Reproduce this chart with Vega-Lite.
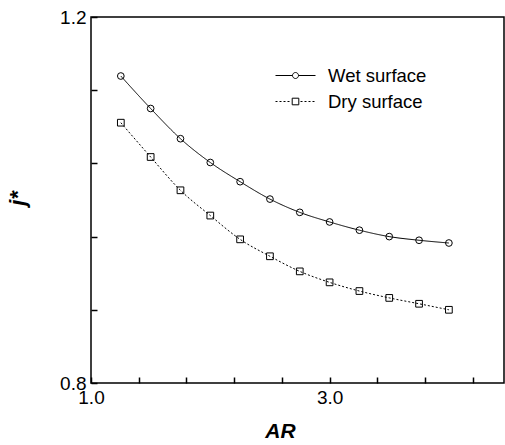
{
  "$schema": "https://vega.github.io/schema/vega-lite/v6.json",
  "width": 413,
  "height": 366,
  "autosize": {"type": "none"},
  "padding": {"left": 91, "top": 17, "right": 1, "bottom": 62},
  "background": "white",
  "config": {
    "view": {"stroke": "black", "strokeWidth": 1.5},
    "font": "Liberation Sans",
    "axis": {
      "labelColor": "black",
      "labelFont": "Liberation Sans",
      "labelFontSize": 19,
      "titleColor": "black"
    }
  },
  "data": {
    "values": [
      {"AR": 1.25, "j": 1.1355, "series": "Wet surface"},
      {"AR": 1.5, "j": 1.100, "series": "Wet surface"},
      {"AR": 1.75, "j": 1.067, "series": "Wet surface"},
      {"AR": 2.0, "j": 1.041, "series": "Wet surface"},
      {"AR": 2.25, "j": 1.020, "series": "Wet surface"},
      {"AR": 2.5, "j": 1.001, "series": "Wet surface"},
      {"AR": 2.75, "j": 0.9865, "series": "Wet surface"},
      {"AR": 3.0, "j": 0.976, "series": "Wet surface"},
      {"AR": 3.25, "j": 0.967, "series": "Wet surface"},
      {"AR": 3.5, "j": 0.960, "series": "Wet surface"},
      {"AR": 3.75, "j": 0.956, "series": "Wet surface"},
      {"AR": 4.0, "j": 0.953, "series": "Wet surface"},
      {"AR": 1.25, "j": 1.0845, "series": "Dry surface"},
      {"AR": 1.5, "j": 1.047, "series": "Dry surface"},
      {"AR": 1.75, "j": 1.0106, "series": "Dry surface"},
      {"AR": 2.0, "j": 0.983, "series": "Dry surface"},
      {"AR": 2.25, "j": 0.957, "series": "Dry surface"},
      {"AR": 2.5, "j": 0.9385, "series": "Dry surface"},
      {"AR": 2.75, "j": 0.922, "series": "Dry surface"},
      {"AR": 3.0, "j": 0.910, "series": "Dry surface"},
      {"AR": 3.25, "j": 0.9005, "series": "Dry surface"},
      {"AR": 3.5, "j": 0.893, "series": "Dry surface"},
      {"AR": 3.75, "j": 0.8866, "series": "Dry surface"},
      {"AR": 4.0, "j": 0.880, "series": "Dry surface"}
    ]
  },
  "layer": [
    {
      "mark": {"type": "line", "color": "black", "strokeWidth": 1, "interpolate": "monotone"},
      "encoding": {
        "x": {
          "field": "AR", "type": "quantitative",
          "scale": {"domain": [1, 4.462], "nice": false, "zero": false},
          "axis": {
            "orient": "bottom",
            "grid": false,
            "domain": false,
            "values": [1.0,1.1,1.2,1.3,1.4,1.5,1.6,1.7,1.8,1.9,2.0,2.1,2.2,2.3,2.4,2.5,2.6,2.7,2.8,2.9,3.0,3.1,3.2,3.3,3.4,3.5,3.6,3.7,3.8,3.9,4.0,4.1,4.2,4.3,4.4],
            "labelExpr": "abs(datum.value - round(datum.value)) < 0.001 ? format(datum.value, '.1f') : ''",
            "tickColor": "black",
            "tickWidth": 1.5,
            "tickSize": -6,
            "labelPadding": 11,
            "labelFlush": false,
            "labelOverlap": false,
            "title": "AR",
            "titleFont": "Liberation Sans",
            "titleFontSize": 21,
            "titleFontWeight": "bold",
            "titleFontStyle": "italic",
            "titleAnchor": "start",
            "titleAlign": "center",
            "titleBaseline": "alphabetic",
            "titleX": 189,
            "titleY": 54
          }
        },
        "y": {
          "field": "j", "type": "quantitative",
          "scale": {"domain": [0.8, 1.2], "nice": false, "zero": false},
          "axis": {
            "orient": "left",
            "grid": false,
            "domain": false,
            "values": [0.8,0.81,0.82,0.83,0.84,0.85,0.86,0.87,0.88,0.89,0.9,0.91,0.92,0.93,0.94,0.95,0.96,0.97,0.98,0.99,1.0,1.01,1.02,1.03,1.04,1.05,1.06,1.07,1.08,1.09,1.1,1.11,1.12,1.13,1.14,1.15,1.16,1.17,1.18,1.19,1.2],
            "labelExpr": "abs(datum.value*10 - round(datum.value*10)) < 0.001 ? format(datum.value, '.1f') : ''",
            "tickColor": "black",
            "tickWidth": 1.5,
            "tickSize": -6,
            "labelPadding": 11,
            "labelFlush": false,
            "labelOverlap": false,
            "title": "j*",
            "titleFont": "Liberation Sans",
            "titleFontSize": 22,
            "titleFontWeight": "bold",
            "titleFontStyle": "italic",
            "titleAngle": -90,
            "titleAnchor": "start",
            "titleAlign": "center",
            "titleBaseline": "middle",
            "titleX": -74,
            "titleY": 181
          }
        },
        "strokeDash": {
          "condition": {"test": "datum.series === 'Dry surface'", "value": [2, 2]},
          "value": [1, 0]
        },
        "detail": {"field": "series", "type": "nominal"}
      }
    },
    {
      "mark": {"type": "point", "filled": false, "color": "black", "strokeWidth": 1, "size": 45, "opacity": 1},
      "encoding": {
        "x": {"field": "AR", "type": "quantitative"},
        "y": {"field": "j", "type": "quantitative"},
        "shape": {
          "field": "series", "type": "nominal",
          "scale": {"domain": ["Wet surface", "Dry surface"], "range": ["circle", "square"]},
          "legend": null
        }
      }
    },
    {
      "mark": {"type": "point", "filled": false, "color": "black", "strokeWidth": 1, "opacity": 0},
      "encoding": {
        "x": {"field": "AR", "type": "quantitative"},
        "y": {"field": "j", "type": "quantitative"},
        "shape": {
          "field": "series", "type": "nominal",
          "scale": {"domain": ["Wet surface", "Dry surface"], "range": ["M-2,0H-0.3M0.3,0H2M0.3,0A0.3,0.3,0,1,1,-0.3,0A0.3,0.3,0,1,1,0.3,0", "M-2,0h0.2M-1.6,0h0.2M-1.2,0h0.2M-0.8,0h0.2M-0.33,-0.33H0.33V0.33H-0.33ZM0.5,0h0.2M0.9,0h0.2M1.3,0h0.2M1.7,0h0.2"]},
          "legend": {
            "orient": "none",
            "legendX": 194,
            "legendY": 48,
            "title": null,
            "padding": 0,
            "symbolSize": 400,
            "symbolOpacity": 1,
            "symbolStrokeWidth": 1,
            "symbolStrokeColor": "black",
            "symbolFillColor": "transparent",
            "labelFont": "Liberation Sans",
            "labelFontSize": 18.5,
            "labelColor": "black",
            "labelOffset": 22,
            "rowPadding": 6
          }
        }
      }
    }
  ],
  "resolve": {"scale": {"shape": "independent"}}
}
